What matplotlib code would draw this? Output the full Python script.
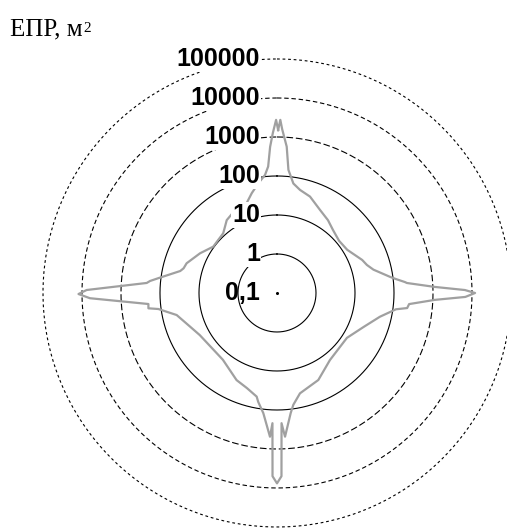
import numpy as np
import matplotlib
matplotlib.use("Agg")
import matplotlib.pyplot as plt
from matplotlib.transforms import offset_copy

# azimuth, degrees (0 = up, clockwise) and RCS, m^2
azimuth = [0.4, 1.1, 1.8, 3.8, 5.3, 8.5, 12.6, 18.9, 27.4, 35, 41.6, 50, 58.4,
           68.8, 72.7, 76.4, 81.9, 83.3, 85.1, 85.6, 87.8, 89.1, 90, 91.2, 92.5,
           94.8, 96.6, 97.8, 103, 111.3, 122.7, 141.7, 154.6, 167.1, 171.7,
           173.5, 176.8, 178, 178.6, 180, 181.4, 182, 182.8, 186.5, 189.8,
           191.1, 197.6, 204.9, 219, 241.4, 248.8, 257.6, 262.3, 263.2, 265.1,
           268.4, 269.7, 270.9, 274.4, 275.4, 277.1, 282.8, 284.8, 288.2,
           297.3, 306, 318, 325.4, 333.2, 341.3, 345.8, 350.3, 354.2, 356,
           357.3, 358.5, 359.7]
rcs = [1500, 2750, 1600, 575, 148, 69, 51, 41, 25, 19, 14.5, 12, 13,
       22, 26, 35, 85, 117, 195, 219, 1120, 6600, 12000, 6760, 1120,
       251, 229, 120, 51, 24.5, 13.5, 15.5, 29.5, 43.6, 79,
       126, 490, 219, 5000, 7600, 5000, 219, 490, 126, 68,
       51, 36, 29, 16, 18, 24.5, 43, 117, 209, 204,
       6300, 12300, 7600, 224, 186, 117, 35, 30, 27.5,
       16.6, 10.5, 11.5, 18.6, 24, 27, 43.6, 71, 110, 178,
       562, 1260, 2750]

ring_values = [1, 10, 100, 1000, 10000, 100000]
ring_labels = ["1", "10", "100", "1000", "10000", "100000"]
ring_styles = ["-", "-", "-", (0, (6, 2.5)), (0, (4, 2.5)), (0, (2.5, 2.5))]


def to_r(v):
    # 0,1 m^2 sits at the centre, one ring per decade
    return np.log10(v) + 1


fig = plt.figure(figsize=(5.07, 5.28), dpi=100)
ax = fig.add_axes([0.0848, 0.0019, 0.9231, 0.8864], projection="polar")
ax.set_theta_zero_location("N")
ax.set_theta_direction(-1)
ax.set_rlim(0, 6)
ax.grid(False)
ax.set_xticks([])
ax.set_yticks([])
ax.spines["polar"].set_visible(False)
ax.patch.set_visible(False)

th = np.linspace(0, 2 * np.pi, 721)
for v, ls in zip(ring_values, ring_styles):
    ax.plot(th, np.full_like(th, to_r(v)), color="black", lw=0.8,
            linestyle=ls, clip_on=False, zorder=1)
ax.plot([0], [0], marker="o", ms=1.2, color="black", zorder=1)

a = np.deg2rad(np.array(azimuth + [azimuth[0] + 360]))
r = to_r(np.array(rcs + [rcs[0]]))
ax.plot(a, r, color="#a0a0a0", lw=1.6, zorder=2, clip_on=False)

lab_tr = offset_copy(ax.transData, fig=fig, x=-17, y=0, units="dots")
font = dict(family="Liberation Sans", weight="bold", size=18)
for v, lab in zip(ring_values, ring_labels):
    ax.text(0, to_r(v), lab, transform=lab_tr, ha="right", va="center",
            bbox=dict(facecolor="white", edgecolor="none", pad=0.5),
            zorder=3, **font)
ax.text(0, 0, "0,1", transform=lab_tr, ha="right", va="center", zorder=3,
        **font)

t = fig.text(10 / 507, 1 - 35 / 528, "ЕПР, м", family="Liberation Serif",
             size=18, ha="left", va="baseline")
fig.canvas.draw()
bb = t.get_window_extent()
fig.text((bb.x1 + 1) / 507, 1 - 32 / 528, "2", family="Liberation Serif",
         size=11, ha="left", va="baseline")

fig.savefig("out.png", dpi=100)
